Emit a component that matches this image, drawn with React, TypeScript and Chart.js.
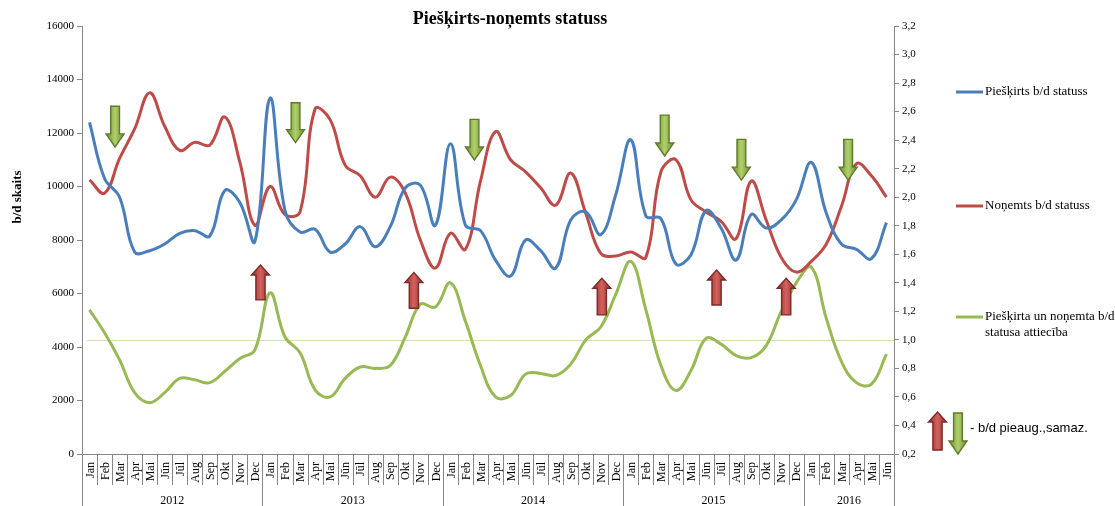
import React, { useEffect, useRef } from 'react';
import { Chart, registerables } from 'chart.js';

Chart.register(...registerables);

// ---------- data ----------
const monthNames = ['Jan', 'Feb', 'Mar', 'Apr', 'Mai', 'Jūn', 'Jūl', 'Aug', 'Sep', 'Okt', 'Nov', 'Dec'];
const years = ['2012', '2013', '2014', '2015', '2016'];
const monthsPerYear = [12, 12, 12, 12, 6];
const categories = years.flatMap((y, i) => monthNames.slice(0, monthsPerYear[i]).map((m) => `${m} ${y}`));

// Piešķirts b/d statuss (left axis)
const pieskirts = [
  12400, 10300, 9600, 7550, 7600, 7850, 8250, 8350, 8150, 9850, 9400, 7950,
  13300, 9100, 8300, 8400, 7550, 7850, 8500, 7750, 8500, 9950, 10050, 8550,
  11600, 8550, 8350, 7250, 6650, 8000, 7600, 6950, 8750, 9050, 8200, 9700,
  11750, 8900, 8800, 7100, 7450, 9100, 8450, 7250, 8950, 8450, 8750, 9500,
  10900, 9000, 7850, 7650, 7300, 8650,
];
// Noņemts b/d statuss (left axis)
const nonemts = [
  10250, 9750, 11050, 12150, 13500, 12250, 11350, 11650, 11550, 12600, 10900, 8550,
  10000, 8950, 9050, 12900, 12500, 10800, 10400, 9600, 10350, 9750, 8000, 6950,
  8250, 7650, 10200, 12050, 11000, 10550, 9950, 9300, 10500, 9000, 7500, 7400,
  7550, 7350, 10550, 11000, 9500, 9050, 8700, 8050, 10200, 8750, 7350, 6800,
  7200, 7850, 9250, 10850, 10400, 9600,
];
// Piešķirta un noņemta b/d statusa attiecība (right axis)
const attieciba = [
  1.21, 1.05, 0.86, 0.63, 0.56, 0.63, 0.73, 0.72, 0.70, 0.78, 0.87, 0.93,
  1.33, 1.02, 0.91, 0.65, 0.60, 0.73, 0.81, 0.80, 0.82, 1.02, 1.25, 1.23,
  1.40, 1.13, 0.82, 0.60, 0.61, 0.76, 0.765, 0.75, 0.83, 1.0, 1.09, 1.32,
  1.55, 1.21, 0.82, 0.645, 0.785, 1.01, 0.97, 0.89, 0.875, 0.96, 1.2, 1.4,
  1.51, 1.15, 0.85, 0.70, 0.69, 0.90,
];

const leftMax = 16000;
const leftStep = 2000;
const rightMin = 0.2;
const rightMax = 3.2;
const rightStep = 0.2;
const referenceRatio = 1.0;

// annotation arrows: category position (index), tail value, head value (left axis units)
const decreaseAt = [1.7, 13.7, 25.6, 38.25, 43.35, 50.45];
const decreaseFrom = [13000, 13130, 12510, 12670, 11760, 11760];
const decreaseTo = [11480, 11640, 10990, 11140, 10240, 10240];
const increaseAt = [11.37, 21.57, 34.07, 41.7, 46.33];
const increaseFrom = [5760, 5450, 5200, 5570, 5200];
const increaseTo = [7065, 6780, 6570, 6880, 6570];

const seriesNames = ['Piešķirts b/d statuss', 'Noņemts b/d statuss', 'Piešķirta un noņemta b/d statusa attiecība'];
const colors = ['#4a7ebb', '#be4b48', '#98b954'];

const SERIF = '"Liberation Serif", "Times New Roman", serif';
const AXIS_GRAY = '#868686';

function drawArrow(ctx: CanvasRenderingContext2D, cx: number, tailY: number, tipY: number, kind: 'up' | 'down') {
  const up = kind === 'up';
  const len = Math.abs(tailY - tipY);
  const headH = up ? Math.min(10, len * 0.3) : Math.min(13, len * 0.33);
  const halfShaft = up ? 4.6 : 4.4;
  const halfHead = 9;
  const baseY = up ? tipY + headH : tipY - headH;
  ctx.save();
  ctx.beginPath();
  ctx.moveTo(cx - halfShaft, tailY);
  ctx.lineTo(cx - halfShaft, baseY);
  ctx.lineTo(cx - halfHead, baseY);
  ctx.lineTo(cx, tipY);
  ctx.lineTo(cx + halfHead, baseY);
  ctx.lineTo(cx + halfShaft, baseY);
  ctx.lineTo(cx + halfShaft, tailY);
  ctx.closePath();
  const g = ctx.createLinearGradient(cx - halfHead, 0, cx + halfHead, 0);
  if (up) {
    g.addColorStop(0, '#8e302e');
    g.addColorStop(0.5, '#d5615d');
    g.addColorStop(1, '#8e302e');
  } else {
    g.addColorStop(0, '#6f8a34');
    g.addColorStop(0.5, '#afd06a');
    g.addColorStop(1, '#6f8a34');
  }
  ctx.fillStyle = g;
  ctx.fill();
  ctx.lineWidth = 1.4;
  ctx.strokeStyle = up ? '#7a2a28' : '#5f7a2c';
  ctx.stroke();
  ctx.restore();
}

const decorPlugin = {
  id: 'decor',
  beforeDatasetsDraw(chart: any) {
    const { ctx, chartArea, scales } = chart;
    const y = scales.y1.getPixelForValue(referenceRatio);
    ctx.save();
    ctx.strokeStyle = '#d3e1b6';
    ctx.lineWidth = 1;
    ctx.beginPath();
    ctx.moveTo(chartArea.left + 5, Math.round(y) + 0.5);
    ctx.lineTo(chartArea.right, Math.round(y) + 0.5);
    ctx.stroke();
    ctx.restore();
  },
  afterDatasetsDraw(chart: any) {
    const { ctx, scales } = chart;
    const xs = scales.x;
    const ys = scales.y;
    decreaseAt.forEach((at, i) => {
      drawArrow(ctx, xs.getPixelForValue(at), ys.getPixelForValue(decreaseFrom[i]), ys.getPixelForValue(decreaseTo[i]), 'down');
    });
    increaseAt.forEach((at, i) => {
      drawArrow(ctx, xs.getPixelForValue(at), ys.getPixelForValue(increaseFrom[i]), ys.getPixelForValue(increaseTo[i]), 'up');
    });
  },
  afterDraw(chart: any) {
    const { ctx, chartArea, scales, height } = chart;
    const xs = scales.x;
    const bottom = chartArea.bottom;
    ctx.save();
    // title
    ctx.fillStyle = '#000';
    ctx.font = `bold 18px ${SERIF}`;
    ctx.textAlign = 'center';
    ctx.textBaseline = 'middle';
    ctx.fillText('Piešķirts-noņemts statuss', 510, 19);

    // left axis title
    ctx.save();
    ctx.translate(18, 197);
    ctx.rotate(-Math.PI / 2);
    ctx.font = `bold 13px ${SERIF}`;
    ctx.fillText('b/d skaits', 0, 0);
    ctx.restore();

    // x axis
    ctx.strokeStyle = AXIS_GRAY;
    ctx.lineWidth = 1;
    ctx.beginPath();
    ctx.moveTo(chartArea.left, Math.round(bottom) + 0.5);
    ctx.lineTo(chartArea.right, Math.round(bottom) + 0.5);
    let k = 0;
    const yearBounds: number[] = [0];
    monthsPerYear.forEach((n) => {
      k += n;
      yearBounds.push(k);
    });
    for (let b = 0; b <= categories.length; b++) {
      const x = Math.round(xs.getPixelForValue(b - 0.5)) + 0.5;
      const isYear = yearBounds.includes(b);
      ctx.moveTo(x, bottom);
      ctx.lineTo(x, isYear ? height : bottom + 31);
    }
    ctx.stroke();

    // month labels
    ctx.fillStyle = '#000';
    ctx.font = `12px ${SERIF}`;
    ctx.textAlign = 'right';
    ctx.textBaseline = 'middle';
    categories.forEach((c, i) => {
      const x = xs.getPixelForValue(i);
      ctx.save();
      ctx.translate(x + 1, bottom + 8);
      ctx.rotate(-Math.PI / 2);
      ctx.fillText(c.split(' ')[0], 0, 0);
      ctx.restore();
    });
    // year labels
    ctx.textAlign = 'center';
    years.forEach((y, i) => {
      const x0 = xs.getPixelForValue(yearBounds[i] - 0.5);
      const x1 = xs.getPixelForValue(yearBounds[i + 1] - 0.5);
      ctx.fillText(y, (x0 + x1) / 2, bottom + 47);
    });

    // legend
    const legendY = [92, 206, 317];
    seriesNames.forEach((name, i) => {
      ctx.strokeStyle = colors[i];
      ctx.lineWidth = 3;
      ctx.beginPath();
      ctx.moveTo(956, legendY[i]);
      ctx.lineTo(983, legendY[i]);
      ctx.stroke();
      ctx.fillStyle = '#000';
      ctx.font = `13px ${SERIF}`;
      ctx.textAlign = 'left';
      ctx.textBaseline = 'middle';
      if (i === 2) {
        ctx.fillText('Piešķirta un noņemta b/d', 985, legendY[i]);
        ctx.fillText('statusa attiecība', 985, legendY[i] + 16);
      } else {
        ctx.fillText(name, 985, legendY[i]);
      }
    });
    // arrow key
    drawArrow(ctx, 937.5, 450, 412, 'up');
    drawArrow(ctx, 958, 413, 454, 'down');
    ctx.fillStyle = '#000';
    ctx.font = `13px "Liberation Sans", Arial, sans-serif`;
    ctx.textAlign = 'left';
    ctx.textBaseline = 'middle';
    ctx.fillText('- b/d pieaug.,samaz.', 970, 428);
    ctx.restore();
  },
};

export default function App() {
  const canvasRef = useRef<HTMLCanvasElement | null>(null);

  useEffect(() => {
    document.body.style.margin = '0';
    const canvas = canvasRef.current;
    if (!canvas) return;
    const chart = new Chart(canvas, {
      type: 'line',
      data: {
        labels: categories,
        datasets: [
          {
            label: seriesNames[0],
            data: pieskirts,
            borderColor: colors[0],
            backgroundColor: colors[0],
            borderWidth: 3,
            pointRadius: 0,
            tension: 0.4,
            yAxisID: 'y',
          },
          {
            label: seriesNames[1],
            data: nonemts,
            borderColor: colors[1],
            backgroundColor: colors[1],
            borderWidth: 3,
            pointRadius: 0,
            tension: 0.4,
            yAxisID: 'y',
          },
          {
            label: seriesNames[2],
            data: attieciba,
            borderColor: colors[2],
            backgroundColor: colors[2],
            borderWidth: 3,
            pointRadius: 0,
            tension: 0.4,
            yAxisID: 'y1',
          },
        ],
      },
      options: {
        responsive: false,
        animation: false,
        layout: { padding: { top: 26, bottom: 52, left: 0, right: 0 } },
        plugins: {
          legend: { display: false },
          title: { display: false },
          tooltip: { enabled: false },
        },
        scales: {
          x: {
            display: false,
            offset: true,
          },
          y: {
            position: 'left',
            min: 0,
            max: leftMax,
            afterFit: (s: any) => {
              s.width = 82;
            },
            ticks: {
              stepSize: leftStep,
              color: '#000',
              font: { family: SERIF, size: 11 },
              padding: 3,
              callback: (v: any) => String(v),
            },
            grid: { drawOnChartArea: false, drawTicks: true, tickLength: 5, color: AXIS_GRAY },
            border: { display: true, color: AXIS_GRAY },
          },
          y1: {
            position: 'right',
            min: rightMin,
            max: rightMax,
            afterFit: (s: any) => {
              s.width = 221;
            },
            ticks: {
              stepSize: rightStep,
              color: '#000',
              font: { family: SERIF, size: 11 },
              padding: 3,
              callback: (v: any) => Number(v).toFixed(1).replace('.', ','),
            },
            grid: { drawOnChartArea: false, drawTicks: true, tickLength: 5, color: AXIS_GRAY },
            border: { display: true, color: AXIS_GRAY },
          },
        },
      },
      plugins: [decorPlugin],
    } as any);
    return () => chart.destroy();
  }, []);

  return (
    <div style={{ width: 1115, height: 506, background: '#fff' }}>
      <canvas ref={canvasRef} width={1115} height={506} style={{ display: 'block' }} />
    </div>
  );
}
